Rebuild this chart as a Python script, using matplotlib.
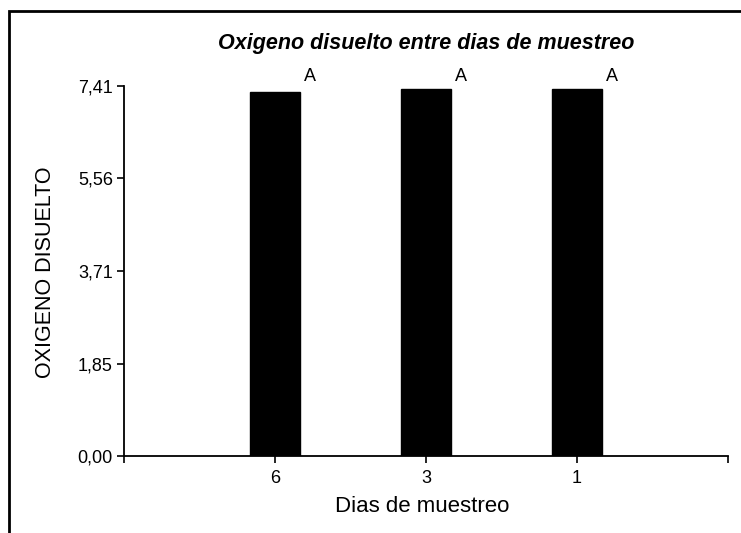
import matplotlib
matplotlib.use('Agg')
import matplotlib.pyplot as plt
from matplotlib.patches import Rectangle

plt.rcParams['font.family'] = ['Liberation Sans', 'DejaVu Sans']

dias = ['6', '3', '1']
oxigeno = [7.29, 7.34, 7.35]
letras = ['A', 'A', 'A']
yticks = [0.00, 1.85, 3.71, 5.56, 7.41]

W, H = 741, 533
fig = plt.figure(figsize=(W / 100, H / 100), dpi=100)
ax = fig.add_axes([124 / W, 1 - 456 / H, 604 / W, 370 / H])

xpos = [1, 2, 3]
ax.bar(xpos, oxigeno, width=0.33, color='black', edgecolor='black')
for x, v, l in zip(xpos, oxigeno, letras):
    ax.text(x + 0.23, 7.43, l, ha='center', va='bottom', fontsize=13,
            clip_on=False)

ax.set_xlim(0, 4)
ax.set_ylim(0, 7.41)
ax.set_xticks([0, 1, 2, 3, 4])
ax.set_xticklabels([''] + dias + [''], fontsize=13)
ax.set_yticks(yticks)
ax.set_yticklabels([f'{t:.2f}'.replace('.', ',') for t in yticks], fontsize=13)
ax.tick_params(direction='out', length=5, width=1.2)
ax.tick_params(axis='x', pad=5)
ax.tick_params(axis='y', pad=3)
ax.spines['top'].set_visible(False)
ax.spines['right'].set_visible(False)
ax.spines['left'].set_linewidth(1.3)
ax.spines['bottom'].set_linewidth(1.3)

fig.text(422 / W, 1 - 517 / H, 'Dias de muestreo', fontsize=16,
         ha='center', va='bottom')
fig.text(46 / W, 1 - 272 / H, 'OXIGENO DISUELTO', fontsize=15.5,
         rotation=90, ha='center', va='center')
fig.text(426 / W, 1 - 49 / H, 'Oxigeno disuelto entre dias de muestreo',
         fontsize=15.5, fontweight='bold', fontstyle='italic',
         ha='center', va='baseline')

# outer frame of the original export
fig.patches.append(Rectangle((9 / W, -0.05), 1.0, 1 - 11 / H + 0.05,
                             transform=fig.transFigure, fill=False,
                             edgecolor='black', linewidth=2, clip_on=False))

fig.savefig('out.png', dpi=100)
